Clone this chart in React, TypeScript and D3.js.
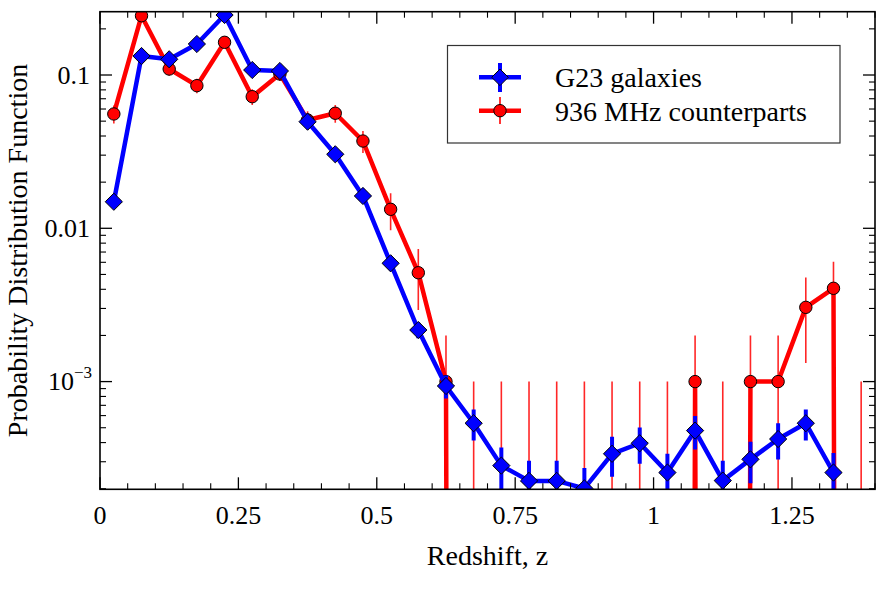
import React from 'react';
import * as d3 from 'd3';

// Redshift bin centres
const zBins = [0.025, 0.075, 0.125, 0.175, 0.225, 0.275, 0.325, 0.375, 0.425, 0.475, 0.525, 0.575, 0.625, 0.675, 0.725, 0.775, 0.825, 0.875, 0.925, 0.975, 1.025, 1.075, 1.125, 1.175, 1.225, 1.275, 1.325, 1.375];

// G23 galaxies (bins 0.025 .. 1.325)
const g23Values = [0.0149, 0.133, 0.1266, 0.1593, 0.2462, 0.1078, 0.1062, 0.0496, 0.0304, 0.01625, 0.00591, 0.00217, 0.000936, 0.000535, 0.000283, 0.000225, 0.000225, 0.000201, 0.000338, 0.000396, 0.000255, 0.000479, 0.000226, 0.000311, 0.000422, 0.000535, 0.000255];
const g23Errors = [0.00065, 0.0019, 0.0019, 0.0021, 0.0026, 0.0017, 0.0017, 0.0012, 0.0009, 0.00067, 0.0004, 0.00025, 0.00016, 0.000122, 0.000088, 0.00008, 0.00008, 0.000072, 0.000099, 0.000105, 0.000083, 0.000118, 0.000079, 0.000094, 0.000112, 0.000123, 0.000087];

// 936 MHz counterparts (bins 0.025 .. 1.375)
const mhzValues = [0.0557, 0.2436, 0.1094, 0.0852, 0.1634, 0.0722, 0.1015, 0.0509, 0.0563, 0.0371, 0.0133, 0.00513, 0.001, 0, 0, 0, 0, 0, 0, 0, 0, 0.001, 0, 0.001, 0.001, 0.00305, 0.00406, 0];
const mhzErrors = [0.0075, 0.0156, 0.0104, 0.0092, 0.0128, 0.0085, 0.010, 0.0071, 0.0075, 0.0061, 0.0036, 0.0022, 0.001, 0.001, 0.001, 0.001, 0.001, 0.001, 0.001, 0.001, 0.001, 0.001, 0.001, 0.001, 0.001, 0.00173, 0.002, 0.001];

const xTicks = [0, 0.25, 0.5, 0.75, 1, 1.25];
const xTickLabels = ['0', '0.25', '0.5', '0.75', '1', '1.25'];
const yTicks = [0.1, 0.01, 0.001];
const yTickBase = ['0.1', '0.01', '10'];
const yTickSup = ['', '', '\u22123'];

const seriesNames = ['G23 galaxies', '936 MHz counterparts'];

const W = 886;
const H = 590;
const L = 100, R = 875, T = 11.7, B = 489.3;
const FONT = '"Liberation Serif", "Times New Roman", Times, serif';
const BLUE = '#0000ff';
const RED = '#ff0000';
const FLOOR = 1e-60;

export default function App() {
  const x = d3.scaleLinear().domain([0, 1.4]).range([L, R]);
  const y = d3.scaleLog().domain([1.983e-4, 0.2588]).range([B, T]);
  const yv = (v: number) => y(v > 0 ? v : FLOOR);

  const line = d3.line<[number, number]>().x(d => x(d[0])).y(d => yv(d[1]));

  const g23 = g23Values.map((v, i) => [zBins[i], v] as [number, number]);
  const mhz = mhzValues.map((v, i) => [zBins[i], v] as [number, number]);

  const xMinor = d3.range(0, 1.4001, 0.05).filter(t => Math.abs(t / 0.25 - Math.round(t / 0.25)) > 1e-6);
  const yMinor = y.ticks().filter(t => {
    const m = t / Math.pow(10, Math.floor(Math.log10(t) + 1e-9));
    return Math.abs(m - 1) > 1e-6;
  });

  const diamond = (h: number) => `M0,${-h}L${h},0L0,${h}L${-h},0Z`;

  return (
    <svg width={W} height={H} style={{ position: 'absolute', left: 0, top: 0, background: '#fff' }} fontFamily={FONT}>
      <defs>
        <clipPath id="plotclip">
          <rect x={L} y={T} width={R - L} height={B - T} />
        </clipPath>
      </defs>
      <rect x={0} y={0} width={W} height={H} fill="#fff" />

      <g clipPath="url(#plotclip)">
        {/* 936 MHz series */}
        <path d={line(mhz) || ''} fill="none" stroke={RED} strokeWidth={4.5} strokeLinejoin="round" />
        {mhz.map(([z, v], i) => {
          const e = mhzErrors[i];
          const lo = v - e > 0 ? v - e : FLOOR;
          return <line key={'re' + i} x1={x(z)} x2={x(z)} y1={yv(v + e)} y2={yv(lo)} stroke={RED} strokeWidth={1.6} strokeOpacity={0.85} />;
        })}
        {mhz.map(([z, v], i) => v > 0 ? (
          <circle key={'rc' + i} cx={x(z)} cy={yv(v)} r={6.2} fill={RED} stroke="#000" strokeWidth={1} />
        ) : null)}

        {/* G23 series */}
        <path d={line(g23) || ''} fill="none" stroke={BLUE} strokeWidth={4.5} strokeLinejoin="round" />
        {g23.map(([z, v], i) => {
          const e = g23Errors[i];
          const lo = v - e > 0 ? v - e : FLOOR;
          return <line key={'be' + i} x1={x(z)} x2={x(z)} y1={yv(v + e)} y2={yv(lo)} stroke={BLUE} strokeWidth={4} />;
        })}
        {g23.map(([z, v], i) => (
          <path key={'bd' + i} d={diamond(8.6)} transform={`translate(${x(z)},${yv(v)})`} fill={BLUE} stroke="#000" strokeWidth={1} />
        ))}
      </g>

      {/* frame */}
      <rect x={L} y={T} width={R - L} height={B - T} fill="none" stroke="#000" strokeWidth={1.6} />

      {/* x ticks */}
      {xTicks.map((t, i) => (
        <g key={'xt' + i}>
          <line x1={x(t)} x2={x(t)} y1={B} y2={B - 12} stroke="#000" strokeWidth={1.3} />
          <line x1={x(t)} x2={x(t)} y1={T} y2={T + 12} stroke="#000" strokeWidth={1.3} />
          <text x={x(t)} y={524} textAnchor="middle" fontSize={26} fill="#000">{xTickLabels[i]}</text>
        </g>
      ))}
      {xMinor.map((t, i) => (
        <g key={'xm' + i}>
          <line x1={x(t)} x2={x(t)} y1={B} y2={B - 6} stroke="#000" strokeWidth={1.1} />
          <line x1={x(t)} x2={x(t)} y1={T} y2={T + 6} stroke="#000" strokeWidth={1.1} />
        </g>
      ))}

      {/* y ticks */}
      {yTicks.map((t, i) => (
        <g key={'yt' + i}>
          <line x1={L} x2={L + 12} y1={y(t)} y2={y(t)} stroke="#000" strokeWidth={1.3} />
          <line x1={R} x2={R - 12} y1={y(t)} y2={y(t)} stroke="#000" strokeWidth={1.3} />
          <text x={yTickSup[i] ? 92 : 90} y={y(t) + 8.6} textAnchor="end" fontSize={26} fill="#000">
            {yTickBase[i]}
            {yTickSup[i] ? <tspan fontSize={17} dy={-12}>{yTickSup[i]}</tspan> : null}
          </text>
        </g>
      ))}
      {yMinor.map((t, i) => (
        <g key={'ym' + i}>
          <line x1={L} x2={L + 6} y1={y(t)} y2={y(t)} stroke="#000" strokeWidth={1.1} />
          <line x1={R} x2={R - 6} y1={y(t)} y2={y(t)} stroke="#000" strokeWidth={1.1} />
        </g>
      ))}

      {/* axis titles */}
      <text x={(L + R) / 2} y={565} textAnchor="middle" fontSize={28} fill="#000">Redshift, z</text>
      <text transform={`translate(27,${(T + B) / 2}) rotate(-90)`} textAnchor="middle" fontSize={28} fill="#000">Probability Distribution Function</text>

      {/* legend */}
      <rect x={447.5} y={45.5} width={392.5} height={97.5} fill="#fff" stroke="#333" strokeWidth={1.2} />
      <g>
        <line x1={479} x2={521} y1={77.3} y2={77.3} stroke={BLUE} strokeWidth={4.5} />
        <line x1={500} x2={500} y1={63} y2={92} stroke={BLUE} strokeWidth={4} />
        <path d={diamond(8.3)} transform="translate(500,77.3)" fill={BLUE} stroke="#000" strokeWidth={1} />
        <text x={555} y={86.6} fontSize={28} fill="#000">{seriesNames[0]}</text>
      </g>
      <g>
        <line x1={479} x2={521} y1={110.7} y2={110.7} stroke={RED} strokeWidth={4.5} />
        <line x1={500} x2={500} y1={97} y2={124} stroke={RED} strokeWidth={1.6} />
        <circle cx={500} cy={110.7} r={6.2} fill={RED} stroke="#000" strokeWidth={1} />
        <text x={555} y={120.6} fontSize={28} fill="#000">{seriesNames[1]}</text>
      </g>
    </svg>
  );
}
